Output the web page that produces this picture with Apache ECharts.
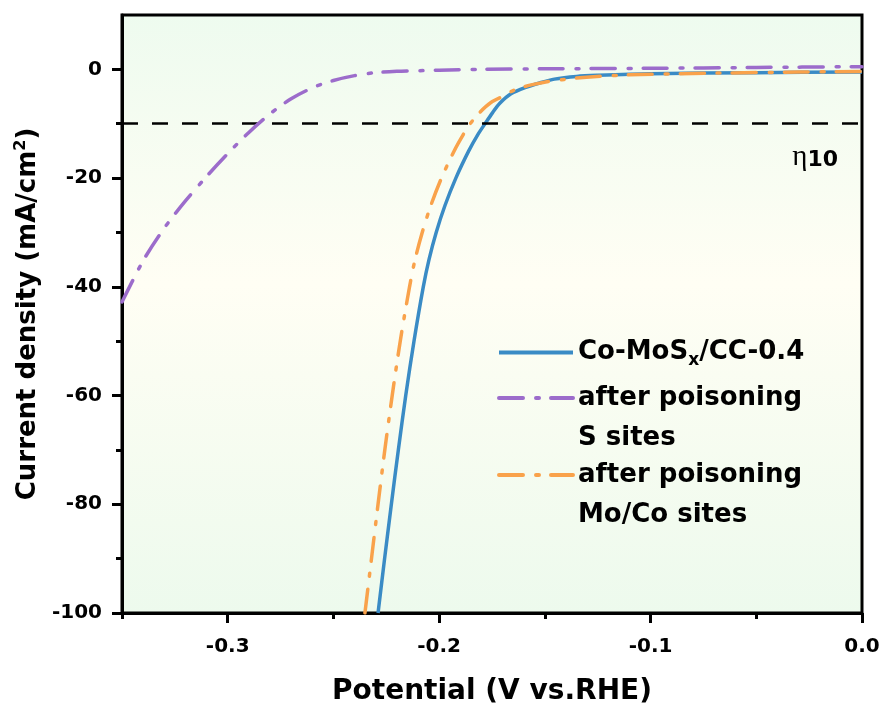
<!DOCTYPE html>
<html>
<head>
<meta charset="utf-8">
<script src="https://cdn.jsdelivr.net/npm/echarts@6/dist/echarts.min.js"></script>
<style>
  html, body { margin: 0; padding: 0; background: #fff; }
  #chart { width: 884px; height: 707px; }
</style>
</head>
<body>
<div id="chart"></div>
<script>
// Polarization curves (LSV) for Co-MoSx/CC-0.4 before and after site poisoning
const seriesNames = ['Co-MoSx/CC-0.4', 'after poisoning S sites', 'after poisoning Mo/Co sites'];

// Co-MoSx/CC-0.4: potential (V vs. RHE) and current density (mA/cm2)
const pristineE = [-0.2289, -0.2258, -0.2226, -0.2193, -0.2158, -0.2119, -0.2075, -0.2048, -0.2014, -0.1972,
                   -0.1921, -0.1860, -0.1817, -0.1783, -0.1748, -0.1712, -0.1660, -0.1590, -0.1525, -0.1455,
                   -0.1350, -0.1250, -0.1000, -0.0500, 0.0000];
const pristineJ = [-100, -90, -80, -70, -60, -50, -40, -35, -30, -25,
                   -20, -15, -12, -10, -8, -6.2, -4.5, -3.3, -2.5, -1.8,
                   -1.3, -1.1, -0.8, -0.6, -0.5];

// after poisoning S sites
const sPoisonE = [-0.350, -0.340, -0.330, -0.320, -0.310, -0.300, -0.290, -0.280, -0.270, -0.260,
                  -0.250, -0.240, -0.230, -0.220, -0.210, -0.200, -0.180, -0.150, -0.100, -0.050, 0.000];
const sPoisonJ = [-42.8, -35.2, -29.2, -24.2, -19.7, -15.5, -11.6, -8.2, -5.4, -3.4,
                  -2.05, -1.15, -0.6, -0.35, -0.25, -0.15, 0.0, 0.1, 0.2, 0.35, 0.5];

// after poisoning Mo/Co sites
const mPoisonE = [-0.2351, -0.2320, -0.2289, -0.2257, -0.2222, -0.2184, -0.2140, -0.2114, -0.2080, -0.2039,
                  -0.1989, -0.1929, -0.1886, -0.1853, -0.1810, -0.1755, -0.1690, -0.1650, -0.1580,
                  -0.1508, -0.1420, -0.1319, -0.1100, -0.0700, -0.0300, 0.0000];
const mPoisonJ = [-100, -90, -80, -70, -60, -50, -40, -35, -30, -25,
                  -20, -15, -12, -10, -8, -6.1, -4.8, -3.9, -3.0,
                  -2.4, -1.9, -1.5, -1.0, -0.7, -0.5, -0.4];

// axis ticks
const xMajorTicks = [-0.3, -0.2, -0.1, 0.0];
const xMinorTicks = [-0.35, -0.25, -0.15, -0.05];
const yMajorTicks = [-100, -80, -60, -40, -20, 0];
const yMinorTicks = [-90, -70, -50, -30, -10];

// reference current density for the overpotential marker
const etaLevel = -10;
const etaLabel = '10';

const colors = ['#3a8bc5', '#9c6ccb', '#f9a24b'];
const FONT = 'DejaVu Sans';
const dashDot = [24, 13, 3, 12];

const pairs = (xs, ys) => xs.map((x, i) => [x, ys[i]]);

const chart = echarts.init(document.getElementById('chart'), null, { renderer: 'canvas' });

const legendCommon = {
  orient: 'vertical',
  left: 497,
  padding: 0,
  itemWidth: 74,
  itemHeight: 14,
  itemStyle: { opacity: 0, color: 'rgba(0,0,0,0)', borderWidth: 0 },
  lineStyle: { width: 4 },
  textStyle: {
    color: '#000',
    fontFamily: FONT,
    fontWeight: 'bold',
    fontSize: 26,
    rich: {
      t: { fontFamily: FONT, fontWeight: 'bold', fontSize: 26, lineHeight: 40, color: '#000' },
      s: { fontFamily: FONT, fontWeight: 'bold', fontSize: 17, lineHeight: 40, color: '#000', padding: [16, 0, 0, 0] },
      e: { fontSize: 10, lineHeight: 40 }
    }
  }
};

const option = {
  backgroundColor: '#fff',
  animation: false,
  grid: {
    left: 122, right: 22, top: 15, bottom: 94,
    outerBoundsMode: 'none',
    containLabel: false,
    show: true,
    borderColor: '#000',
    borderWidth: 3,
    backgroundColor: new echarts.graphic.LinearGradient(0, 0, 0, 1, [
      { offset: 0, color: '#eefbef' },
      { offset: 0.45, color: '#fffef4' },
      { offset: 1, color: '#edfaed' }
    ])
  },
  legend: [
    Object.assign({}, legendCommon, {
      top: 336,
      data: [seriesNames[0]],
      formatter: () => '{t|Co-MoS}{s|x}{t|/CC-0.4}'
    }),
    Object.assign({}, legendCommon, {
      top: 353,
      data: [seriesNames[1]],
      formatter: () => '{e| }\n{t|after poisoning}\n{t|S sites}'
    }),
    Object.assign({}, legendCommon, {
      top: 430,
      data: [seriesNames[2]],
      formatter: () => '{e| }\n{t|after poisoning}\n{t|Mo/Co sites}'
    })
  ],
  xAxis: [
    {
      type: 'value',
      min: -0.35, max: 0,
      name: 'Potential (V vs.RHE)',
      nameLocation: 'middle',
      nameGap: 65,
      nameTextStyle: { fontFamily: FONT, fontWeight: 'bold', fontSize: 28, color: '#000' },
      axisLine: { show: true, onZero: false, lineStyle: { color: '#000', width: 3 } },
      axisTick: { show: true, inside: false, length: 10, customValues: xMajorTicks, lineStyle: { color: '#000', width: 3 } },
      axisLabel: {
        customValues: xMajorTicks,
        margin: 24,
        fontFamily: FONT, fontWeight: 'bold', fontSize: 20, color: '#000',
        formatter: v => v.toFixed(1)
      },
      splitLine: { show: false }
    },
    {
      type: 'value',
      min: -0.35, max: 0,
      position: 'bottom',
      axisLine: { show: false, onZero: false },
      axisTick: { show: true, inside: false, length: 6, customValues: xMinorTicks, lineStyle: { color: '#000', width: 3 } },
      axisLabel: { show: false },
      splitLine: { show: false }
    }
  ],
  yAxis: [
    {
      type: 'value',
      min: -100, max: 10,
      name: 'Current density (mA/cm{sup|2})',
      nameLocation: 'middle',
      nameRotate: 90,
      nameGap: 71,
      nameTextStyle: {
        fontFamily: FONT, fontWeight: 'bold', fontSize: 26, color: '#000',
        rich: {
          sup: { fontFamily: FONT, fontWeight: 'bold', fontSize: 16, color: '#000', padding: [0, 0, 14, 0] }
        }
      },
      axisLine: { show: true, onZero: false, lineStyle: { color: '#000', width: 3 } },
      axisTick: { show: true, inside: false, length: 10, customValues: yMajorTicks, lineStyle: { color: '#000', width: 3 } },
      axisLabel: {
        customValues: yMajorTicks,
        margin: 20,
        fontFamily: FONT, fontWeight: 'bold', fontSize: 20, color: '#000'
      },
      splitLine: { show: false }
    },
    {
      type: 'value',
      min: -100, max: 10,
      position: 'left',
      axisLine: { show: false, onZero: false },
      axisTick: { show: true, inside: false, length: 6, customValues: yMinorTicks, lineStyle: { color: '#000', width: 3 } },
      axisLabel: { show: false },
      splitLine: { show: false }
    }
  ],
  series: [
    {
      name: seriesNames[0],
      type: 'line',
      xAxisIndex: 0, yAxisIndex: 0,
      data: pairs(pristineE, pristineJ),
      symbol: 'none',
      smooth: 0.3,
      color: colors[0],
      lineStyle: { color: colors[0], width: 3.5 },
      z: 3,
      markLine: {
        silent: true,
        symbol: 'none',
        lineStyle: { color: '#000', width: 2.6, type: [16, 14] },
        label: {
          show: true,
          position: 'insideEndBottom',
          distance: [24, 18],
          formatter: '{g|η}{n|' + etaLabel + '}',
          rich: {
            g: { fontFamily: 'Liberation Serif', fontSize: 29, lineHeight: 30, verticalAlign: 'bottom', color: '#000' },
            n: { fontFamily: FONT, fontWeight: 'bold', fontSize: 22, lineHeight: 30, verticalAlign: 'bottom', color: '#000' }
          }
        },
        data: [{ yAxis: etaLevel }]
      }
    },
    {
      name: seriesNames[2],
      type: 'line',
      xAxisIndex: 0, yAxisIndex: 0,
      data: pairs(mPoisonE, mPoisonJ),
      symbol: 'none',
      smooth: 0.3,
      color: colors[2],
      lineStyle: { color: colors[2], width: 3.5, type: dashDot, cap: 'round' },
      z: 4
    },
    {
      name: seriesNames[1],
      type: 'line',
      xAxisIndex: 0, yAxisIndex: 0,
      data: pairs(sPoisonE, sPoisonJ),
      symbol: 'none',
      smooth: 0.3,
      color: colors[1],
      lineStyle: { color: colors[1], width: 3.5, type: dashDot, cap: 'round' },
      z: 5
    }
  ]
};

chart.setOption(option);
</script>
</body>
</html>
